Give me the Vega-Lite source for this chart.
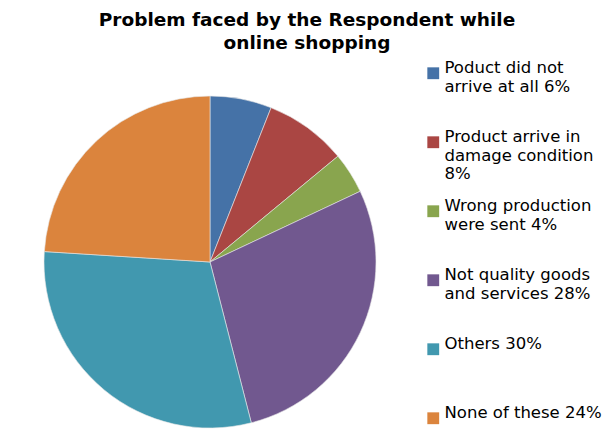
{
  "$schema": "https://vega.github.io/schema/vega-lite/v6.json",
  "autosize": "none",
  "width": 420,
  "height": 332,
  "padding": {"left": 0, "top": 96, "right": 183, "bottom": 1},
  "background": "white",
  "title": {
    "text": ["Problem faced by the Respondent while", "online shopping"],
    "font": "DejaVu Sans",
    "fontSize": 18.5,
    "fontWeight": "bold",
    "color": "black",
    "lineHeight": 23,
    "anchor": "middle",
    "dx": 97,
    "offset": 13
  },
  "data": {
    "values": [
      {"order": 1, "problem": "Poduct did not arrive at all 6%", "percent": 6},
      {"order": 2, "problem": "Product arrive in damage condition 8%", "percent": 8},
      {"order": 3, "problem": "Wrong production were sent 4%", "percent": 4},
      {"order": 4, "problem": "Not quality goods and services 28%", "percent": 28},
      {"order": 5, "problem": "Others 30%", "percent": 30},
      {"order": 6, "problem": "None of these 24%", "percent": 24}
    ]
  },
  "mark": {"type": "arc", "outerRadius": 166, "stroke": "#e8e8e8", "strokeWidth": 0.6},
  "encoding": {
    "theta": {"field": "percent", "type": "quantitative", "stack": true},
    "order": {"field": "order", "type": "quantitative"},
    "color": {
      "field": "problem",
      "type": "nominal",
      "sort": null,
      "scale": {
        "domain": [
          "Poduct did not arrive at all 6%",
          "Product arrive in damage condition 8%",
          "Wrong production were sent 4%",
          "Not quality goods and services 28%",
          "Others 30%",
          "None of these 24%"
        ],
        "range": ["#4572A7", "#AA4643", "#89A54E", "#71588F", "#4198AF", "#DB843D"]
      },
      "legend": {
        "title": null,
        "orient": "none",
        "legendX": 425,
        "legendY": -31,
        "padding": 0,
        "columns": 1,
        "gridAlign": "all",
        "rowPadding": 15,
        "symbolType": "square",
        "symbolSize": 140,
        "symbolStrokeWidth": 0,
        "symbolOffset": 0,
        "labelOffset": 3,
        "labelFont": "DejaVu Sans",
        "labelFontSize": 16.5,
        "labelColor": "black",
        "labelBaseline": "alphabetic",
        "labelLineHeight": 23,
        "labelLimit": 300,
        "labelExpr": "{'Poduct did not arrive at all 6%': ['Poduct did not', 'arrive at all 6%'], 'Product arrive in damage condition 8%': ['Product arrive in', 'damage condition', '8%'], 'Wrong production were sent 4%': ['Wrong production', 'were sent 4%'], 'Not quality goods and services 28%': ['Not quality goods', 'and services 28%'], 'Others 30%': 'Others 30%', 'None of these 24%': 'None of these 24%'}[datum.label]",
        "encode": {"labels": {"update": {"dy": {"value": 6}}}}
      }
    }
  },
  "config": {"view": {"stroke": null}}
}
